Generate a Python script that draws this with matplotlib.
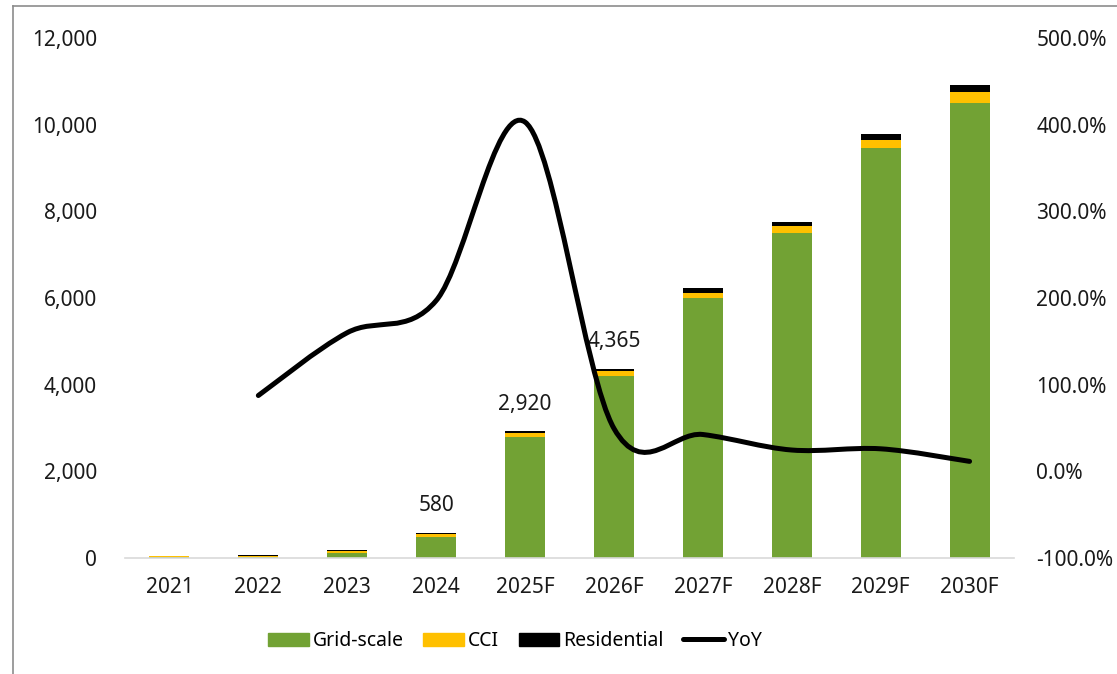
import numpy as np
import matplotlib.pyplot as plt
from matplotlib.path import Path
from matplotlib.patches import PathPatch, Patch
from matplotlib.lines import Line2D
from matplotlib.ticker import FuncFormatter

plt.rcParams['font.family'] = ['Noto Sans', 'DejaVu Sans']

years = ['2021', '2022', '2023', '2024', '2025F', '2026F', '2027F', '2028F', '2029F', '2030F']
grid_scale = [20, 20, 120, 490, 2800, 4200, 6000, 7500, 9470, 10510]
cci = [15, 35, 45, 60, 80, 105, 120, 155, 180, 255]
residential = [5, 20, 30, 30, 40, 60, 100, 100, 140, 150]
yoy = [np.nan, 87.5, 160, 197, 403, 49.5, 42.5, 24.6, 26, 11.5]  # %
labelled = ['2024', '2025F', '2026F']

green = '#72a234'
yellow = '#ffc000'

fig = plt.figure(figsize=(11.17, 6.74), dpi=100)
ax = fig.add_axes([0.1119, 0.1721, 0.7959, 0.7715])
ax2 = ax.twinx()

x = np.arange(len(years))
gs = np.array(grid_scale)
cc = np.array(cci)
rs = np.array(residential)
w = 0.45
ax.bar(x, gs, w, color=green, label='Grid-scale', zorder=2)
ax.bar(x, cc, w, bottom=gs, color=yellow, label='CCI', zorder=2)
ax.bar(x, rs, w, bottom=gs + cc, color='black', label='Residential', zorder=2)

total = gs + cc + rs
for i, y in enumerate(years):
    if y in labelled:
        ax.annotate(f'{total[i]:,}', (x[i], total[i]), xytext=(0, 12), textcoords='offset points',
                    ha='center', va='bottom', fontsize=15, color='#1a1a1a')

ax.set_xlim(-0.5, len(years) - 0.5)
ax.set_ylim(0, 12000)
ax.set_yticks(range(0, 12001, 2000))
ax.yaxis.set_major_formatter(FuncFormatter(lambda v, p: f'{int(v):,}'))
ax.set_xticks(x)
ax.set_xticklabels(years)

ax2.set_ylim(-100, 500)
ax2.set_yticks(range(-100, 501, 100))
ax2.yaxis.set_major_formatter(FuncFormatter(lambda v, p: f'{v:.1f}%'))

# smoothed YoY line (Catmull-Rom style bezier, like Excel's smoothed line)
pts = np.array([(xi, yi) for xi, yi in zip(x, yoy) if not np.isnan(yi)], dtype=float)
verts = [pts[0]]
codes = [Path.MOVETO]
n = len(pts)
for i in range(n - 1):
    p0 = pts[max(i - 1, 0)]
    p1 = pts[i]
    p2 = pts[i + 1]
    p3 = pts[min(i + 2, n - 1)]
    c1 = p1 + (p2 - p0) / 6
    c2 = p2 - (p3 - p1) / 6
    verts += [c1, c2, p2]
    codes += [Path.CURVE4] * 3
ax2.add_patch(PathPatch(Path(verts, codes), fill=False, edgecolor='black', lw=3.6,
                        capstyle='round', joinstyle='round', zorder=3))

for a in (ax, ax2):
    for s in ['left', 'right', 'top', 'bottom']:
        a.spines[s].set_visible(False)
    a.tick_params(length=0, labelsize=15, colors='#1a1a1a')
ax.spines['bottom'].set_visible(True)
ax.spines['bottom'].set_color('#d9d9d9')
ax.spines['bottom'].set_linewidth(1.2)
ax.tick_params(axis='y', pad=20)
ax.tick_params(axis='x', pad=14)
ax2.tick_params(axis='y', pad=16)

handles = [Patch(color=green), Patch(color=yellow), Patch(color='black'),
           Line2D([], [], color='black', lw=3.6, solid_capstyle='round')]
fig.legend(handles, ['Grid-scale', 'CCI', 'Residential', 'YoY'], loc='center',
           bbox_to_anchor=(0.461, 0.049), ncol=4, frameon=False, fontsize=14,
           handlelength=2.1, handleheight=0.65, handletextpad=0.2, columnspacing=1.0)

# outer chart border (cut at the right and bottom)
fig.add_artist(Line2D([13 / 1117, 13 / 1117], [1 - 6 / 674, 0], color='#8c8c8c', lw=1.2))
fig.add_artist(Line2D([13 / 1117, 1], [1 - 6 / 674, 1 - 6 / 674], color='#8c8c8c', lw=1.2))

fig.savefig('out.png', dpi=100)
